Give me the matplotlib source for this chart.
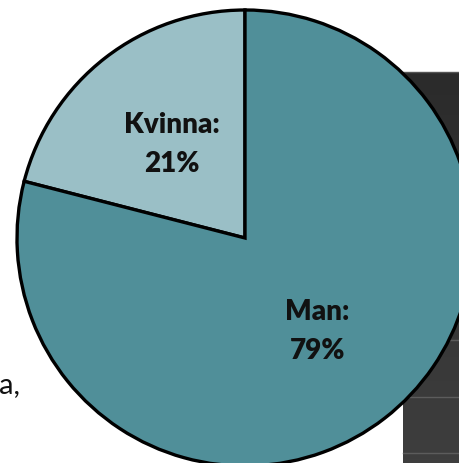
import numpy as np
import matplotlib
matplotlib.use('Agg')
import matplotlib.pyplot as plt

# data
labels = ["Kvinna", "Man"]
shares = [21, 79]
colors = ["#9abfc6", "#508f99"]

W, H = 459, 463
fig = plt.figure(figsize=(W/100, H/100), dpi=100)
ax = fig.add_axes([0, 0, 1, 1])

# dark box behind the pie (slide background element)
grad = np.linspace(0, 1, 100).reshape(-1, 1)
cm = matplotlib.colors.LinearSegmentedColormap.from_list("g", ["#2b2b2b", "#3e3e3e"])
ax.imshow(grad, extent=[403, W, 0, H - 72], cmap=cm, aspect='auto', origin='upper', zorder=0)
ax.plot([403, W], [H - 72, H - 72], color="#555555", lw=1, zorder=1)
for yy in [340, 397, 453]:
    ax.plot([403, W], [H - yy, H - yy], color="#5c5c5c", lw=1, zorder=1)

def fmt(p, it=iter(labels)):
    return "%s:\n%d%%" % (next(it), round(p))

wedges, texts, autotexts = ax.pie(shares, colors=colors, startangle=90, counterclock=True,
                                  center=(245, H - 238), radius=228, frame=True,
                                  autopct=fmt, pctdistance=0.52,
                                  wedgeprops=dict(edgecolor="black", linewidth=2.4),
                                  textprops=dict(fontfamily="Lato", fontweight="heavy", fontsize=20,
                                                 color="#111111", linespacing=1.6))
for w in wedges:
    w.set_zorder(2)
for t in autotexts:
    t.set_zorder(3)
ax.set_xlim(0, W)
ax.set_ylim(0, H)
ax.axis('off')

ax.text(-1, H - 393, "a,", fontfamily="Lato", fontsize=21, color="#111111", ha='left', va='baseline')

fig.savefig("out.png", dpi=100)
